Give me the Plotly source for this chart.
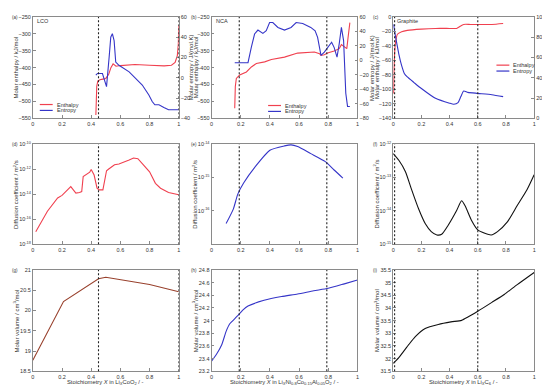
import plotly.graph_objects as go

# ---------------- data ----------------
# (a) LCO
a_h_x = [0.432, 0.434, 0.438, 0.445, 0.46, 0.48, 0.50, 0.52, 0.535, 0.55, 0.57, 0.6, 0.7, 0.8, 0.9, 0.95, 0.975, 0.99, 0.997, 1.0]
a_h_y = [-540, -480, -455, -440, -436, -434, -432, -420, -400, -389, -396, -394, -391, -393, -395, -393, -385, -365, -330, -275]
a_s_x = [0.432, 0.443, 0.477, 0.488, 0.505, 0.523, 0.534, 0.545, 0.557, 0.568, 0.59, 0.66, 0.705, 0.75, 0.795, 0.818, 0.836, 0.864, 0.898, 0.93, 1.0]
a_s_y = [2.5, 4.2, 4.2, -0.7, -8.8, 20.4, 40, 43.5, 36.6, 15.5, 12.3, 5.8, -0.7, -7.2, -17, -23.4, -26.7, -26.7, -29.3, -31.6, -31.6]
# (b) NCA
b_h_x = [0.159, 0.163, 0.17, 0.193, 0.239, 0.273, 0.307, 0.364, 0.41, 0.5, 0.59, 0.705, 0.74, 0.75, 0.773, 0.795, 0.84, 0.875, 0.89, 0.91, 0.927, 0.936, 0.948]
b_h_y = [-520, -456, -432, -422, -413, -398, -388, -383, -376, -369, -357, -354, -359, -364, -362, -357, -351, -344, -332, -338, -344, -310, -267]
b_s_x = [0.159, 0.25, 0.273, 0.295, 0.318, 0.352, 0.375, 0.398, 0.42, 0.455, 0.5, 0.545, 0.58, 0.625, 0.68, 0.71, 0.727, 0.75, 0.773, 0.795, 0.823, 0.84, 0.86, 0.875, 0.89, 0.905, 0.92, 0.932, 0.948]
b_s_y = [-3.2, -3.2, 18.2, 36.4, 41.8, 37.3, 40.9, 52.3, 52.3, 45.5, 41.8, 45.5, 52.3, 50.9, 45.5, 40.9, 31.8, 6.8, 11.4, 18.2, 25, 18, 4.5, 22.7, 45.5, 27.3, -45.5, -63.6, -63.6]
# (c) Graphite
c_h_x = [0.003, 0.008, 0.015, 0.03, 0.06, 0.1, 0.2, 0.3, 0.4, 0.45, 0.47, 0.5, 0.55, 0.7, 0.78]
c_h_y = [-105.6, -60, -37.6, -24, -20.4, -18.6, -16.8, -15.9, -15.9, -15.9, -13.6, -10.4, -10.4, -10.4, -9.1]
c_s_x = [0.003, 0.01, 0.02, 0.04, 0.06, 0.08, 0.1, 0.15, 0.2, 0.3, 0.4, 0.43, 0.46, 0.48, 0.5, 0.53, 0.6, 0.7, 0.78]
c_s_y = [92.6, 86, 78, 63.4, 52, 44, 40.8, 35, 29.4, 19.7, 14.9, 13.9, 15.5, 21.4, 26.9, 25.6, 24.6, 23.3, 21.4]
# (d) LCO diffusion (log10 values)
d_x = [0.02, 0.1, 0.17, 0.2, 0.26, 0.295, 0.32, 0.335, 0.345, 0.39, 0.4, 0.42, 0.44, 0.455, 0.48, 0.49, 0.505, 0.52, 0.56, 0.59, 0.625, 0.66, 0.69, 0.72, 0.75, 0.8, 0.84, 0.875, 0.93, 1.0]
d_logD = [-17.0, -15.36, -14.31, -14.1, -13.4, -13.92, -13.87, -13.8, -12.61, -12.25, -12.04, -12.48, -13.53, -13.66, -13.66, -13.14, -12.14, -12.0, -11.66, -11.6, -11.47, -11.28, -11.12, -11.18, -11.57, -12.22, -13.14, -13.53, -13.87, -14.05]
# (e) NCA diffusion
e_x = [0.1, 0.15, 0.18, 0.22, 0.3, 0.4, 0.5, 0.545, 0.59, 0.68, 0.78, 0.84, 0.9]
e_logD = [-16.38, -15.94, -15.5, -15.17, -14.68, -14.19, -14.06, -14.03, -14.08, -14.29, -14.53, -14.78, -15.02]
# (f) Graphite diffusion
f_x = [0.0, 0.04, 0.087, 0.13, 0.18, 0.227, 0.27, 0.31, 0.344, 0.39, 0.45, 0.485, 0.51, 0.555, 0.6, 0.65, 0.695, 0.74, 0.81, 0.88, 0.95, 1.0]
f_logD = [-12.29, -12.49, -12.83, -13.36, -13.94, -14.38, -14.62, -14.72, -14.7, -14.43, -13.99, -13.7, -13.85, -14.28, -14.57, -14.67, -14.72, -14.62, -14.33, -13.84, -13.36, -12.92]
# (g) LCO molar volume
g_x = [0.0, 0.21, 0.45, 0.5, 0.8, 1.0]
g_v = [18.77, 20.22, 20.78, 20.82, 20.64, 20.46]
# (h) NCA molar volume
h_x = [0.0, 0.034, 0.07, 0.1, 0.125, 0.16, 0.18, 0.216, 0.25, 0.36, 0.48, 0.59, 0.7, 0.8, 0.91, 1.0]
h_v = [23.36, 23.47, 23.62, 23.83, 23.95, 24.03, 24.08, 24.17, 24.23, 24.32, 24.38, 24.42, 24.47, 24.51, 24.58, 24.64]
# (i) Graphite molar volume
i_x = [0.0, 0.04, 0.11, 0.157, 0.227, 0.32, 0.41, 0.485, 0.53, 0.6, 0.7, 0.79, 0.88, 1.0]
i_v = [31.81, 32.04, 32.55, 32.87, 33.19, 33.35, 33.45, 33.51, 33.64, 33.87, 34.22, 34.54, 34.92, 35.4]

# stoichiometry limits (dashed lines) per column
limits = [[0.45, 1.0], [0.19, 0.79], [0.01, 0.6]]
series_names = ["Enthalpy", "Entropy"]

# ---------------- layout helpers ----------------
W, H = 550, 386
cols = [(23, 170), (203, 350), (386, 528)]
rows = [(6, 109), (135, 237), (263, 366)]
def xd(c): return [cols[c][0] / W, cols[c][1] / W]
def yd(r): return [1 - rows[r][1] / H, 1 - rows[r][0] / H]
def sfx(k): return "" if k == 1 else str(k)

RED = "#f0404f"
BLUE = "#3535c8"
BLACK = "#111111"
BROWN = "#98402c"
AXC = "#8a8a8a"
TXT = "#333333"
FONT = "Liberation Sans, Arial, sans-serif"
TF = 5.5

fig = go.Figure()

def ax_common():
    return dict(showline=True, linecolor=AXC, linewidth=0.8, ticks="inside", ticklen=3,
                tickcolor=AXC, tickfont=dict(size=TF, color=TXT, family=FONT),
                showgrid=False, zeroline=False)

layout = {}
for r in range(3):
    for c in range(3):
        k = r * 3 + c + 1
        xa = ax_common()
        xa.update(domain=xd(c), anchor="y" + sfx(k), range=[0, 1], mirror=True,
                  tickvals=[0, 0.2, 0.4, 0.6, 0.8, 1], ticktext=["0", "0.2", "0.4", "0.6", "0.8", "1"])
        layout["xaxis" + sfx(k)] = xa
        ya = ax_common()
        ya.update(domain=yd(r), anchor="x" + sfx(k), mirror=(r != 0))
        layout["yaxis" + sfx(k)] = ya

# row 1 primary (enthalpy) axes
for k in (1, 2):
    layout["yaxis" + sfx(k)].update(range=[-550, -250], tickvals=list(range(-550, -249, 50)))
layout["yaxis3"].update(range=[-140, 0], tickvals=list(range(-140, 1, 20)))
# row 1 secondary (entropy) axes
sec = {10: (1, [-40, 60], list(range(-40, 61, 20))),
       11: (2, [-80, 60], list(range(-80, 61, 20))),
       12: (3, [0, 100], list(range(0, 101, 20)))}
for k, (p, rg, tv) in sec.items():
    ya = ax_common()
    ya.update(overlaying="y" + sfx(p), side="right", anchor="x" + sfx(p), range=rg, tickvals=tv)
    layout["yaxis%d" % k] = ya

# row 2 log axes
def logax(k, lo, hi, vals):
    layout["yaxis%d" % k].update(type="log", range=[lo, hi],
                                 tickvals=[10 ** v for v in vals],
                                 ticktext=["10<sup>%d</sup>" % v for v in vals])
logax(4, -18, -10, [-18, -16, -14, -12, -10])
logax(5, -17, -14, [-16, -15, -14])
logax(6, -15, -12, [-15, -14, -13, -12])

# row 3 axes
layout["yaxis7"].update(range=[18.5, 21], tickvals=[18.5, 19, 19.5, 20, 20.5, 21],
                        ticktext=["18.5", "19", "19.5", "20", "20.5", "21"])
layout["yaxis8"].update(range=[23.2, 24.8], tickvals=[23.2, 23.4, 23.6, 23.8, 24, 24.2, 24.4, 24.6, 24.8],
                        ticktext=["23.2", "23.4", "23.6", "23.8", "24", "24.2", "24.4", "24.6", "24.8"])
layout["yaxis9"].update(range=[31.5, 35.5], tickvals=[31.5, 32, 32.5, 33, 33.5, 34, 34.5, 35, 35.5],
                        ticktext=["31.5", "32", "32.5", "33", "33.5", "34", "34.5", "35", "35.5"])

# ---------------- traces ----------------
def line(x, y, xa, ya, color, name=None, shape="linear", width=1.1):
    fig.add_trace(go.Scatter(x=x, y=y, xaxis=xa, yaxis=ya, mode="lines",
                             line=dict(color=color, width=width, shape=shape, smoothing=0.6),
                             name=name, showlegend=False))

line(a_h_x, a_h_y, "x", "y", RED, "Enthalpy")
line(a_s_x, a_s_y, "x", "y10", BLUE, "Entropy")
line(b_h_x, b_h_y, "x2", "y2", RED, "Enthalpy")
line(b_s_x, b_s_y, "x2", "y11", BLUE, "Entropy")
line(c_h_x, c_h_y, "x3", "y3", RED, "Enthalpy", shape="spline")
line(c_s_x, c_s_y, "x3", "y12", BLUE, "Entropy", shape="spline")

line(d_x, [10 ** v for v in d_logD], "x4", "y4", RED)
line(e_x, [10 ** v for v in e_logD], "x5", "y5", BLUE, shape="spline")
line(f_x, [10 ** v for v in f_logD], "x6", "y6", BLACK, shape="spline")

line(g_x, g_v, "x7", "y7", BROWN)
line(h_x, h_v, "x8", "y8", BLUE, shape="spline")
line(i_x, i_v, "x9", "y9", BLACK, shape="spline")

# dashed stoichiometry limits
shapes = []
for r in range(3):
    for c in range(3):
        k = r * 3 + c + 1
        for v in limits[c]:
            shapes.append(dict(type="line", xref="x" + sfx(k), yref="y" + sfx(k) + " domain",
                               x0=v, x1=v, y0=0, y1=1,
                               line=dict(color="#222222", width=1.1, dash="2px,2px")))

# ---------------- annotations ----------------
ann = []
def text(x, y, s, size=6, angle=0, xanchor="center", yanchor="middle", color=TXT):
    ann.append(dict(x=x / W, y=1 - y / H, xref="paper", yref="paper", text=s, showarrow=False,
                    textangle=angle, xanchor=xanchor, yanchor=yanchor,
                    font=dict(size=size, color=color, family=FONT)))

# compact legends (key line + label) for row 1
legend_pos = [(30, 95), (260, 96), (490, 55)]
for (lx, ly) in legend_pos:
    for j, (nm, colr) in enumerate(zip(series_names, [RED, BLUE])):
        yy = ly + j * 6
        shapes.append(dict(type="line", xref="paper", yref="paper",
                           x0=lx / W, x1=(lx + 13) / W, y0=1 - yy / H, y1=1 - yy / H,
                           line=dict(color=colr, width=1.2)))
        text(lx + 15, yy, nm, size=5.5, xanchor="left")

letters = "abcdefghi"
letter_x = [0, 180, 364]
for r in range(3):
    for c in range(3):
        text(letter_x[c], rows[r][0] + 0.5, "(%s)" % letters[r * 3 + c], size=4.5, xanchor="left")

text(25, 10, "LCO", size=5.5, xanchor="left")
text(205, 10, "NCA", size=5.5, xanchor="left")
text(388, 10, "Graphite", size=5.5, xanchor="left")

ENTH = "Molar enthalpy / kJ/mol"
ENTR = "Molar entropy / J/(mol.K)"
DIFF = "Diffusion coefficient / m<sup>2</sup>/s"
VOL = "Molar volume / cm<sup>3</sup>/mol"
mid = [(rows[r][0] + rows[r][1]) / 2 for r in range(3)]
# row 1
text(6, mid[0], ENTH, angle=-90)
text(182, mid[0], ENTR, angle=-90)
text(187, mid[0], ENTH, angle=-90)
text(364, mid[0], ENTR, angle=-90)
text(369, mid[0], ENTH, angle=-90)
text(542, mid[0], ENTR, angle=-90)
# row 2
text(6, mid[1], DIFF, angle=-90)
text(186, mid[1], DIFF, angle=-90)
text(369, mid[1], DIFF, angle=-90)
# row 3
text(6, mid[2], VOL, angle=-90)
text(186, mid[2], VOL, angle=-90)
text(369, mid[2], VOL, angle=-90)

xt = ["Stoichiometry <i>X</i> in Li<sub><i>X</i></sub>CoO<sub>2</sub> / -",
      "Stoichiometry <i>X</i> in Li<sub><i>X</i></sub>Ni<sub>0.8</sub>Co<sub>0.15</sub>Al<sub>0.05</sub>O<sub>2</sub> / -",
      "Stoichiometry <i>X</i> in Li<sub><i>X</i></sub>C<sub>6</sub> / -"]
for c in range(3):
    text((cols[c][0] + cols[c][1]) / 2, 377.5, xt[c], size=5.8)

fig.update_layout(
    width=W, height=H, margin=dict(l=0, r=0, t=0, b=0),
    paper_bgcolor="white", plot_bgcolor="white",
    shapes=shapes, annotations=ann, showlegend=False,
    **layout,
)

fig.write_html("out.html")
